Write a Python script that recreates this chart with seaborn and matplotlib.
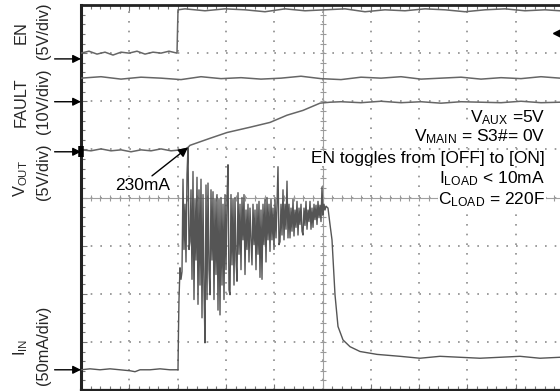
import numpy as np
import pandas as pd
import matplotlib
matplotlib.use("Agg")
import matplotlib.pyplot as plt
import seaborn as sns
from matplotlib.ticker import MultipleLocator
from matplotlib.transforms import blended_transform_factory

# ---------------- data (oscilloscope record) ----------------
SAMPLES_PER_DIV = 48.3          # horizontal record samples per division
SCREEN_SAMPLES = 479            # visible record length

# channel grounds (in screen divisions) and vertical scales
EN_GND, EN_VDIV = 6.88, 5.0         # V/div
FAULT_GND, FAULT_VDIV = 5.99, 10.0  # V/div
VOUT_GND, VOUT_VDIV = 4.95, 5.0     # V/div
IIN_GND, IIN_MADIV = 0.42, 50.0     # mA/div

en_t = [0, 8, 16, 24, 32, 40, 48, 56, 64, 72, 80, 88, 96, 97,
        104, 124, 144, 164, 184, 204, 224, 244, 264, 284, 304, 324, 344,
        364, 384, 404, 424, 444, 464, 479]
en_v = [0.6, 0.8, 0.5, 0.7, 0.4, 0.7, 0.6, 0.8, 0.5, 0.7, 0.6, 0.8, 0.6, 5.1,
        5.2, 5.0, 5.2, 5.1, 4.9, 5.2, 5.0, 5.1, 5.2, 4.9, 5.1, 5.0, 5.2,
        5.1, 4.9, 5.1, 5.2, 5.0, 5.1, 5.0]

fault_t = [0, 20, 40, 60, 80, 100, 120, 140, 160, 180, 200, 220, 240, 260,
           280, 300, 320, 340, 360, 380, 400, 420, 440, 460, 479]
fault_v = [4.9, 5.2, 4.7, 5.1, 4.9, 4.6, 5.2, 4.8, 5.0, 4.7, 4.9, 5.3, 4.8,
           4.6, 5.1, 4.9, 5.2, 4.7, 4.9, 5.1, 4.7, 5.0, 4.8, 5.2, 4.9]

vout_t = [0, 10, 20, 30, 40, 50, 60, 70, 80, 90, 100,
          106, 109, 129, 146, 169, 189, 206, 222, 239, 249,
          260, 280, 300, 320, 340, 360, 380, 400, 420, 440, 460, 479]
vout_v = [0.2, 0.1, 0.3, 0.1, 0.2, 0.0, 0.2, 0.1, 0.3, 0.1, 0.2,
          0.35, 0.67, 1.4, 2.0, 2.55, 3.05, 3.8, 4.3, 5.05, 5.15,
          5.2, 5.1, 5.25, 5.1, 5.2, 5.05, 5.2, 5.15, 5.1, 5.25, 5.1, 5.15]

iin_pre_t = [0, 9, 19, 29, 39, 49, 54, 59, 69, 79, 89, 97, 97.5, 98, 99, 100]
iin_pre_ma = [0, 1, 0, 1, 0, -1, -2, 0, 0, 1, 0, 0, 42, 73, 106, 94]

IIN_OSC_START = 101   # first sample of the inrush ringing record
iin_osc_ma = [102, 198, 125, 172, 112, 203, 231, 125, 133, 187, 94, 206, 73, 177,
              114, 200, 68, 187, 88, 198, 54, 182, 83, 28, 192, 73, 194, 104, 78,
              187, 114, 185, 73, 177, 99, 182, 62, 177, 57, 179, 88, 172, 73, 182,
              104, 177, 213, 83, 78, 182, 109, 177, 88, 179, 114, 92, 184, 120, 172,
              104, 179, 135, 182, 99, 166, 125, 172, 112, 168, 135, 109, 172, 130,
              166, 104, 172, 120, 175, 96, 166, 94, 172, 130, 177, 112, 179, 135,
              172, 123, 177, 135, 168, 125, 177, 137, 172, 211, 130, 133, 172, 140,
              187, 135, 172, 146, 196, 137, 172, 137, 168, 144, 177, 139, 166, 148,
              175, 140, 168, 151, 172, 144, 140, 168, 150, 175, 146, 166, 154, 175,
              146, 168, 148, 172, 156, 171, 151, 175, 158, 171, 154, 190, 161, 172,
              166, 170]

iin_tail_t = [247, 249, 251, 254, 257, 262, 269, 279, 296, 319, 339, 359, 379,
              399, 419, 439, 459, 479]
iin_tail_ma = [168, 151, 135, 78, 45, 31, 24, 19, 16, 14, 12, 14, 13, 12, 13,
               14, 12, 13]

peak_label = "230mA"
notes = [r"V$_{\mathregular{AUX}}$ =5V",
         r"V$_{\mathregular{MAIN}}$ = S3#= 0V",
         "EN toggles from [OFF] to [ON]",
         r"I$_{\mathregular{LOAD}}$ < 10mA",
         r"C$_{\mathregular{LOAD}}$ = 220F"]

# ---------------- style ----------------
sns.set_theme(style="white")
plt.rcParams["font.family"] = ["Liberation Sans", "DejaVu Sans"]
plt.rcParams["mathtext.fontset"] = "custom"
plt.rcParams["mathtext.rm"] = "Liberation Sans"
plt.rcParams["mathtext.it"] = "Liberation Sans"
plt.rcParams["mathtext.default"] = "regular"

TRACE = "#666666"
GRID = "#8c8c8c"

fig = plt.figure(figsize=(5.6, 3.91), dpi=100)
ax = fig.add_axes([81 / 560, 1 / 391, 479 / 560, 385 / 391])
xmax = SCREEN_SAMPLES / SAMPLES_PER_DIV
ax.set_xlim(0, xmax)
ax.set_ylim(0, 8)

# graticule
ax.xaxis.set_major_locator(MultipleLocator(1))
ax.yaxis.set_major_locator(MultipleLocator(1))
ax.xaxis.set_minor_locator(MultipleLocator(0.2))
ax.yaxis.set_minor_locator(MultipleLocator(0.2))
ax.grid(True, which="major", color=GRID, lw=1.2, ls=(0, (1, 4.8)))
ax.tick_params(which="both", direction="in", left=True, bottom=True, top=True,
               right=False, labelleft=False, labelbottom=False, color="#777777")
ax.tick_params(which="major", length=4, width=0.8)
ax.tick_params(which="minor", length=3, width=0.8)
ax.axhline(4, color="#a0a0a0", lw=0.8, zorder=1)
ax.axvline(5, color="#a0a0a0", lw=0.8, zorder=1)
cross_x = np.arange(0, xmax, 0.2)
cross_y = np.arange(0, 8.01, 0.2)
ax.plot(cross_x, np.full_like(cross_x, 4), ls="none", marker="|", ms=5,
        color="#9a9a9a", mew=0.8, zorder=1)
ax.plot(np.full_like(cross_y, 5), cross_y, ls="none", marker="_", ms=5,
        color="#9a9a9a", mew=0.8, zorder=1)

for side in ["right"]:
    ax.spines[side].set_visible(False)
ax.spines["left"].set_linewidth(2.2)
ax.spines["top"].set_linewidth(2.0)
ax.spines["bottom"].set_linewidth(1.6)
for side in ["left", "top", "bottom"]:
    ax.spines[side].set_color("#222222")

# ---------------- traces ----------------
def trace(t, vals, gnd, scale, color=TRACE, lw=1.1):
    df = pd.DataFrame({"x": np.asarray(t, float) / SAMPLES_PER_DIV,
                       "y": gnd + np.asarray(vals, float) / scale})
    sns.lineplot(data=df, x="x", y="y", estimator=None, sort=False, ax=ax,
                 color=color, lw=lw, zorder=3)

trace(en_t, en_v, EN_GND, EN_VDIV)
trace(fault_t, fault_v, FAULT_GND, FAULT_VDIV)
trace(vout_t, vout_v, VOUT_GND, VOUT_VDIV)

iin_t = (list(iin_pre_t)
         + list(IIN_OSC_START + np.arange(len(iin_osc_ma)))
         + list(iin_tail_t))
iin_ma = list(iin_pre_ma) + list(iin_osc_ma) + list(iin_tail_ma)
trace(iin_t, iin_ma, IIN_GND, IIN_MADIV, color="#555555", lw=1.0)
ax.set_xlabel("")
ax.set_ylabel("")

# peak annotation
k = int(np.argmax(iin_osc_ma))
peak_x = (IIN_OSC_START + k) / SAMPLES_PER_DIV
peak_y = IIN_GND + iin_osc_ma[k] / IIN_MADIV
ax.text(1.84, 4.16, peak_label, ha="right", va="baseline", fontsize=12.5,
        color="black", zorder=5,
        bbox=dict(facecolor="white", edgecolor="none", pad=0.3))
ax.annotate("", xy=(peak_x, peak_y), xytext=(1.47, 4.45),
            arrowprops=dict(arrowstyle="-|>", color="black", lw=1.0,
                            mutation_scale=14, shrinkA=0, shrinkB=0),
            zorder=6)

# notes block
note_y = [5.57, 5.16, 4.72, 4.30, 3.85]
for txt, yy in zip(notes, note_y):
    ax.text(9.61, yy, txt, ha="right", va="baseline", fontsize=12.5,
            color="black", zorder=5,
            bbox=dict(facecolor="white", edgecolor="none", pad=0.3))

# ground arrows on the left
bt = blended_transform_factory(ax.transAxes, ax.transData)
for g in [EN_GND, FAULT_GND, VOUT_GND, IIN_GND]:
    ax.annotate("", xy=(0, g), xycoords=bt, xytext=(-19, 0),
                textcoords="offset points",
                arrowprops=dict(arrowstyle="-|>", color="black", lw=1.0,
                                mutation_scale=12, shrinkA=0, shrinkB=0),
                annotation_clip=False)
ax.plot([0, 0], [VOUT_GND - 0.11, VOUT_GND + 0.11], transform=bt, color="black",
        lw=4, solid_capstyle="butt", clip_on=False, zorder=7)

# trigger marker at right edge
ax.plot([xmax], [7.42], marker="<", ms=10, color="black", clip_on=False, zorder=7)

# channel labels
lab_fs = 11.8
fig.text(21 / 560, (391 - 33) / 391, "EN", rotation=90, ha="center", va="center", fontsize=lab_fs)
fig.text(21 / 560, (391 - 102) / 391, "FAULT", rotation=90, ha="center", va="center", fontsize=lab_fs)
fig.text(21 / 560, (391 - 178) / 391, r"V$_{\mathregular{OUT}}$", rotation=90, ha="center", va="center", fontsize=lab_fs)
fig.text(44 / 560, (391 - 31) / 391, "(5V/div)", rotation=90, ha="center", va="center", fontsize=lab_fs)
fig.text(44 / 560, (391 - 101) / 391, "(10V/div)", rotation=90, ha="center", va="center", fontsize=lab_fs)
fig.text(44 / 560, (391 - 172) / 391, "(5V/div)", rotation=90, ha="center", va="center", fontsize=lab_fs)
fig.text(21 / 560, (391 - 347) / 391, r"I$_{\mathregular{IN}}$", rotation=90, ha="center", va="center", fontsize=lab_fs)
fig.text(44 / 560, (391 - 345) / 391, "(50mA/div)", rotation=90, ha="center", va="center", fontsize=lab_fs)

fig.savefig("out.png", dpi=100)
